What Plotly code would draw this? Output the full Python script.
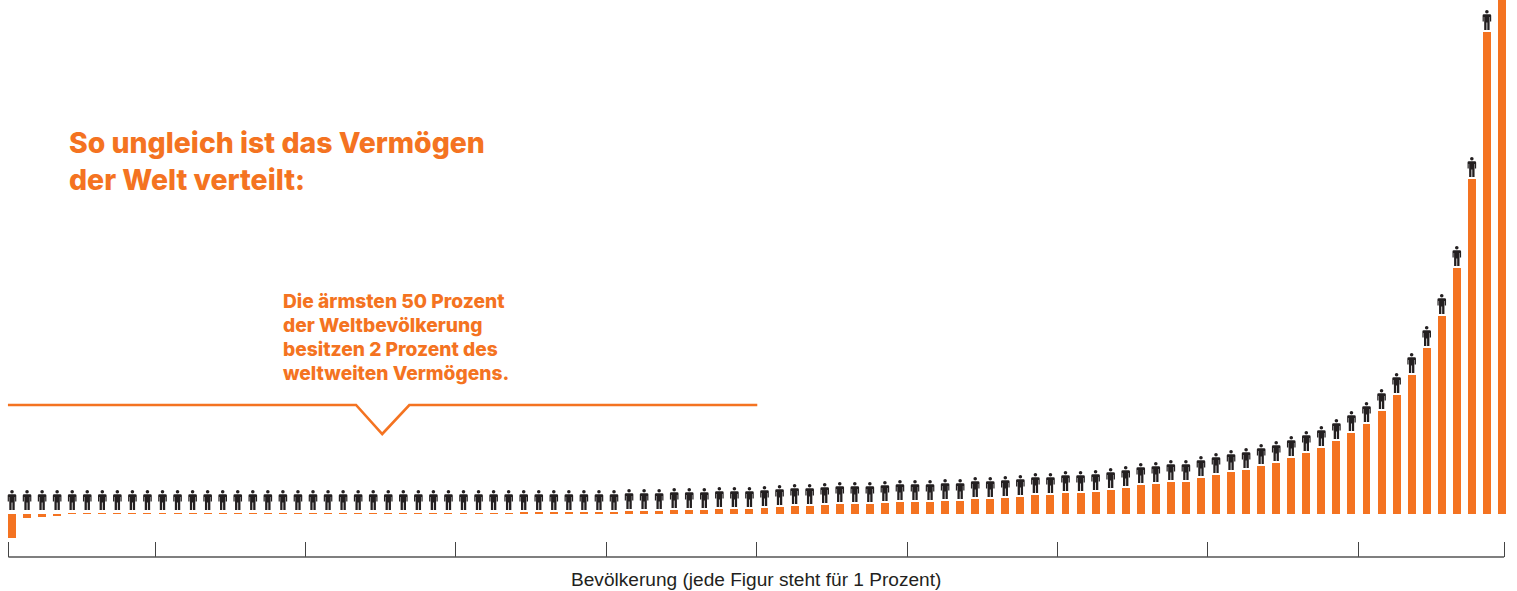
import plotly.graph_objects as go

# Population percentile (1 = poorest, 100 = richest)
percentile = list(range(1, 101))
# Bar heights (relative wealth units)
wealth = [-24, -4, -2.5, -1.5] + [1] * 30 + [
    2, 2, 2, 2, 2, 2, 2, 3, 3, 3, 4, 4, 4, 5, 5, 5, 6, 7, 8,
    8, 9, 10, 10, 10, 11, 12, 12, 12, 13, 13, 15, 15, 16, 17, 19, 19, 21, 21, 22, 24, 26, 29,
    30, 32, 32, 36, 39, 42, 44, 48, 51, 56, 61, 66, 73, 81,
    90, 103, 119, 139, 166, 198, 246, 335, 482, 640,
]
tick_positions = [0.76, 10.53, 20.5, 30.47, 40.5, 50.47, 60.5, 70.47, 80.44, 90.47, 100.14]
bracket_x = [0.73, 23.86, 25.6, 27.4, 50.52]
bracket_y = [109, 109, 80, 109, 109]
title_text = "So ungleich ist das Vermögen<br>der Welt verteilt:"
note_lines = ["Die ärmsten 50 Prozent", "der Weltbevölkerung", "besitzen 2 Prozent des", "weltweiten Vermögens."]
axis_title = "Bevölkerung (jede Figur steht für 1 Prozent)"

ORANGE = "#F47321"
DARK = "#231F20"

# Person icon, pixels relative to its anchor (feet at y = 0, centre at x = 0)
PERSON = (
    "M -1.8 18.2 Q -1.8 20 0 20 Q 1.8 20 1.8 18.2 Q 1.8 16.4 0 16.4 Q -1.8 16.4 -1.8 18.2 Z "
    "M -3 15.8 L 3 15.8 Q 4.3 15.8 4.3 14.5 L 4.3 8.4 L 3.1 8.4 L 3.1 13 L 2.7 13 L 2.7 0 L 0.4 0 L 0.4 7.6 "
    "L -0.4 7.6 L -0.4 0 L -2.7 0 L -2.7 13 L -3.1 13 L -3.1 8.4 L -4.3 8.4 L -4.3 14.5 Q -4.3 15.8 -3 15.8 Z"
)

fig = go.Figure()
fig.add_bar(x=percentile, y=wealth, width=0.53, marker=dict(color=ORANGE, line_width=0), showlegend=False)
fig.add_scatter(x=bracket_x, y=bracket_y, mode="lines", line=dict(color=ORANGE, width=2.6), showlegend=False)

shapes = [
    dict(type="path", xref="x", yref="y", xsizemode="pixel", ysizemode="pixel",
         xanchor=p, yanchor=max(v + 2, 4), path=PERSON, fillcolor=DARK, line_width=0)
    for p, v in zip(percentile, wealth)
]

annotations = [
    dict(x=67 / 1517, y=1 - 123 / 557, xref="paper", yref="paper", xanchor="left", yanchor="top", align="left",
         text=title_text, showarrow=False,
         font=dict(family="Inter", size=28.4, color=ORANGE, weight=800)),
    dict(x=756 / 1517, y=0, xref="paper", yref="paper", xanchor="center", yanchor="top", yshift=-10,
         text=axis_title, showarrow=False,
         font=dict(family="Liberation Sans", size=19.1, color=DARK)),
]
for i, line in enumerate(note_lines):
    annotations.append(dict(
        x=281 / 1517, y=1 - (287 + 24 * i) / 557, xref="paper", yref="paper",
        xanchor="left", yanchor="top", align="left", text=line, showarrow=False,
        font=dict(family="Inter", size=19.2, color=ORANGE, weight=800)))

fig.update_layout(
    width=1517, height=591, margin=dict(l=0, r=0, t=0, b=34),
    paper_bgcolor="white", plot_bgcolor="white", shapes=shapes, bargap=0,
    xaxis=dict(range=[0.2027, 101], tickmode="array", tickvals=tick_positions, ticks="inside",
               ticklen=15, tickwidth=1, tickcolor="#444", showticklabels=False, showgrid=False,
               zeroline=False, showline=False),
    yaxis=dict(range=[-43, 514], visible=False, fixedrange=True),
    annotations=annotations,
)
fig.add_shape(type="line", xref="x", yref="paper", x0=tick_positions[0], x1=tick_positions[-1], y0=0, y1=0,
              line=dict(color="#555", width=1.5))

fig.write_html("out.html", config=dict(displayModeBar=False),
               post_script="document.body.style.margin='0';")
